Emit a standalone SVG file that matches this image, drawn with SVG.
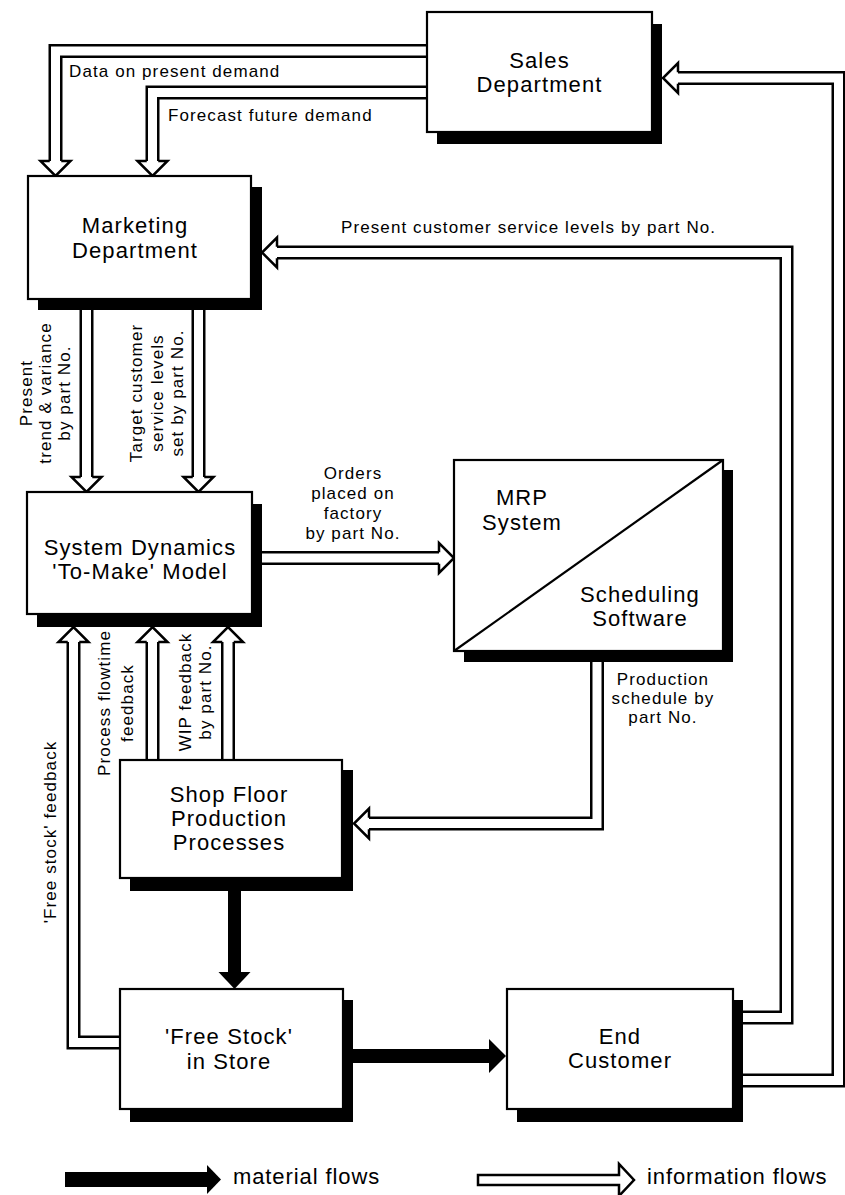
<svg xmlns="http://www.w3.org/2000/svg" xmlns:xlink="http://www.w3.org/1999/xlink" width="845" height="1195" viewBox="0 0 845 1195">
<style>
.bg{fill:#ffffff}
.box{fill:#ffffff;stroke:#000;stroke-width:2.2}
.shadow{fill:#000}
.t{font-family:"Liberation Sans",Arial,sans-serif;font-size:22px;letter-spacing:1.1px;fill:#000;text-anchor:middle}
.s{font-family:"Liberation Sans",Arial,sans-serif;font-size:17px;letter-spacing:1.1px;fill:#000}
.sm{text-anchor:middle}
.lg{font-family:"Liberation Sans",Arial,sans-serif;font-size:22px;letter-spacing:0.9px;fill:#000}
.io{fill:none;stroke:#000;stroke-width:14;stroke-linejoin:miter}
.ii{fill:none;stroke:#fff;stroke-width:9;stroke-linejoin:miter}
.head{fill:#fff;stroke:#000;stroke-width:2.5;stroke-linejoin:miter}
.mat{fill:#000}
.diag{stroke:#000;stroke-width:2.2}
</style>
<defs>
<path id="ih" d="M0,-5.75 L0,-15 L15,0 L0,15 L0,5.75"/>
</defs>
<rect class="bg" x="0" y="0" width="845" height="1195"/>

<g id="connectors">
  <!-- Sales -> Marketing : data on present demand -->
  <path class="io" d="M427,51 H55.5 V161"/><path class="ii" d="M427,51 H55.5 V161"/>
  <use xlink:href="#ih" class="head" transform="translate(55.5,161) rotate(90)"/>
  <!-- Sales -> Marketing : forecast -->
  <path class="io" d="M427,92.5 H152.5 V161"/><path class="ii" d="M427,92.5 H152.5 V161"/>
  <use xlink:href="#ih" class="head" transform="translate(152.5,161) rotate(90)"/>
  <!-- End Customer -> Marketing -->
  <path class="io" d="M743,1017.5 H786.5 V252.5 H277"/><path class="ii" d="M743,1017.5 H786.5 V252.5 H277"/>
  <use xlink:href="#ih" class="head" transform="translate(277,252.5) rotate(180)"/>
  <!-- End Customer -> Sales -->
  <path class="io" d="M743,1080.5 H838.5 V78 H678"/><path class="ii" d="M743,1080.5 H838.5 V78 H678"/>
  <use xlink:href="#ih" class="head" transform="translate(678,78) rotate(180)"/>
  <!-- Marketing -> SD -->
  <path class="io" d="M86.5,310 V477"/><path class="ii" d="M86.5,310 V477"/>
  <use xlink:href="#ih" class="head" transform="translate(86.5,477) rotate(90)"/>
  <path class="io" d="M198.5,310 V477"/><path class="ii" d="M198.5,310 V477"/>
  <use xlink:href="#ih" class="head" transform="translate(198.5,477) rotate(90)"/>
  <!-- SD -> MRP -->
  <path class="io" d="M262,558 H439"/><path class="ii" d="M262,558 H439"/>
  <use xlink:href="#ih" class="head" transform="translate(439,558)"/>
  <!-- MRP -> Shop floor -->
  <path class="io" d="M597,662 V823.5 H369"/><path class="ii" d="M597,662 V823.5 H369"/>
  <use xlink:href="#ih" class="head" transform="translate(369,823.5) rotate(180)"/>
  <!-- Shop floor -> SD feedbacks -->
  <path class="io" d="M152.5,760 V642"/><path class="ii" d="M152.5,760 V642"/>
  <use xlink:href="#ih" class="head" transform="translate(152.5,642) rotate(-90)"/>
  <path class="io" d="M228,760 V642"/><path class="ii" d="M228,760 V642"/>
  <use xlink:href="#ih" class="head" transform="translate(228,642) rotate(-90)"/>
  <!-- Free stock -> SD -->
  <path class="io" d="M120,1042.5 H73.5 V642"/><path class="ii" d="M120,1042.5 H73.5 V642"/>
  <use xlink:href="#ih" class="head" transform="translate(73.5,642) rotate(-90)"/>
  <!-- material flows -->
  <rect class="mat" x="228" y="890" width="13" height="83"/>
  <polygon class="mat" points="218.5,972 250.5,972 234.5,989"/>
  <rect class="mat" x="352" y="1049" width="138" height="14"/>
  <polygon class="mat" points="489,1039 489,1073 506,1056"/>

  <!-- connector labels -->
  <text class="s" x="69" y="77">Data on present demand</text>
  <text class="s" x="168" y="121">Forecast future demand</text>
  <text class="s" x="341" y="233">Present customer service levels by part No.</text>
  <g class="s sm" transform="translate(0,393)">
    <text transform="translate(32,0) rotate(-90)">Present</text>
    <text transform="translate(51,0) rotate(-90)">trend &amp; variance</text>
    <text transform="translate(70,0) rotate(-90)">by part No.</text>
    <text transform="translate(142,0) rotate(-90)">Target customer</text>
    <text transform="translate(163,0) rotate(-90)">service levels</text>
    <text transform="translate(183,0) rotate(-90)">set by part No.</text>
  </g>
  <g class="s sm">
    <text x="353" y="479">Orders</text>
    <text x="353" y="499">placed on</text>
    <text x="353" y="519">factory</text>
    <text x="353" y="539">by part No.</text>
    <text x="663" y="685">Production</text>
    <text x="663" y="704">schedule by</text>
    <text x="663" y="723">part No.</text>
  </g>
  <g class="s sm">
    <text transform="translate(110,703) rotate(-90)">Process flowtime</text>
    <text transform="translate(133,703) rotate(-90)">feedback</text>
    <text transform="translate(191,692) rotate(-90)">WIP feedback</text>
    <text transform="translate(211,692) rotate(-90)">by part No.</text>
    <text transform="translate(56,832) rotate(-90)">'Free stock' feedback</text>
  </g>
</g>

<g id="sales">
  <rect class="shadow" x="437" y="24" width="225" height="120"/>
  <rect class="box" x="427" y="12" width="225" height="120"/>
  <text class="t" x="539.5" y="68">Sales</text>
  <text class="t" x="539.5" y="92">Department</text>
</g>

<g id="marketing">
  <rect class="shadow" x="38" y="187" width="224" height="123"/>
  <rect class="box" x="28" y="176" width="223" height="123"/>
  <text class="t" x="135" y="233">Marketing</text>
  <text class="t" x="135" y="258">Department</text>
</g>

<g id="system-dynamics">
  <rect class="shadow" x="37" y="504" width="225" height="123"/>
  <rect class="box" x="27" y="492" width="225" height="122"/>
  <text class="t" x="140" y="555">System Dynamics</text>
  <text class="t" x="140" y="579">'To-Make' Model</text>
</g>

<g id="mrp">
  <rect class="shadow" x="464" y="470" width="269" height="192"/>
  <rect class="box" x="454" y="460" width="269" height="191"/>
  <line class="diag" x1="454" y1="651" x2="723" y2="460"/>
  <text class="t" x="522" y="505">MRP</text>
  <text class="t" x="522" y="530">System</text>
  <text class="t" x="640" y="602">Scheduling</text>
  <text class="t" x="640" y="626">Software</text>
</g>

<g id="shop-floor">
  <rect class="shadow" x="130" y="770" width="223" height="121"/>
  <rect class="box" x="120" y="760" width="222" height="118"/>
  <text class="t" x="229" y="802">Shop Floor</text>
  <text class="t" x="229" y="826">Production</text>
  <text class="t" x="229" y="850">Processes</text>
</g>

<g id="free-stock">
  <rect class="shadow" x="130" y="1000" width="223" height="122"/>
  <rect class="box" x="120" y="989" width="223" height="120"/>
  <text class="t" x="229" y="1044">'Free Stock'</text>
  <text class="t" x="229" y="1069">in Store</text>
</g>

<g id="end-customer">
  <rect class="shadow" x="517" y="1000" width="226" height="122"/>
  <rect class="box" x="507" y="989" width="226" height="120"/>
  <text class="t" x="620" y="1044">End</text>
  <text class="t" x="620" y="1068">Customer</text>
</g>

<g id="legend">
  <rect class="mat" x="65" y="1172" width="143" height="15"/>
  <polygon class="mat" points="207,1165 207,1194 221,1179.5"/>
  <text class="lg" x="233" y="1184">material flows</text>
  <path class="head" d="M619,1175 L619,1164 L634,1180 L619,1196 L619,1185 L478,1185 L478,1175 Z"/>
  <text class="lg" x="647" y="1184">information flows</text>
</g>
</svg>
